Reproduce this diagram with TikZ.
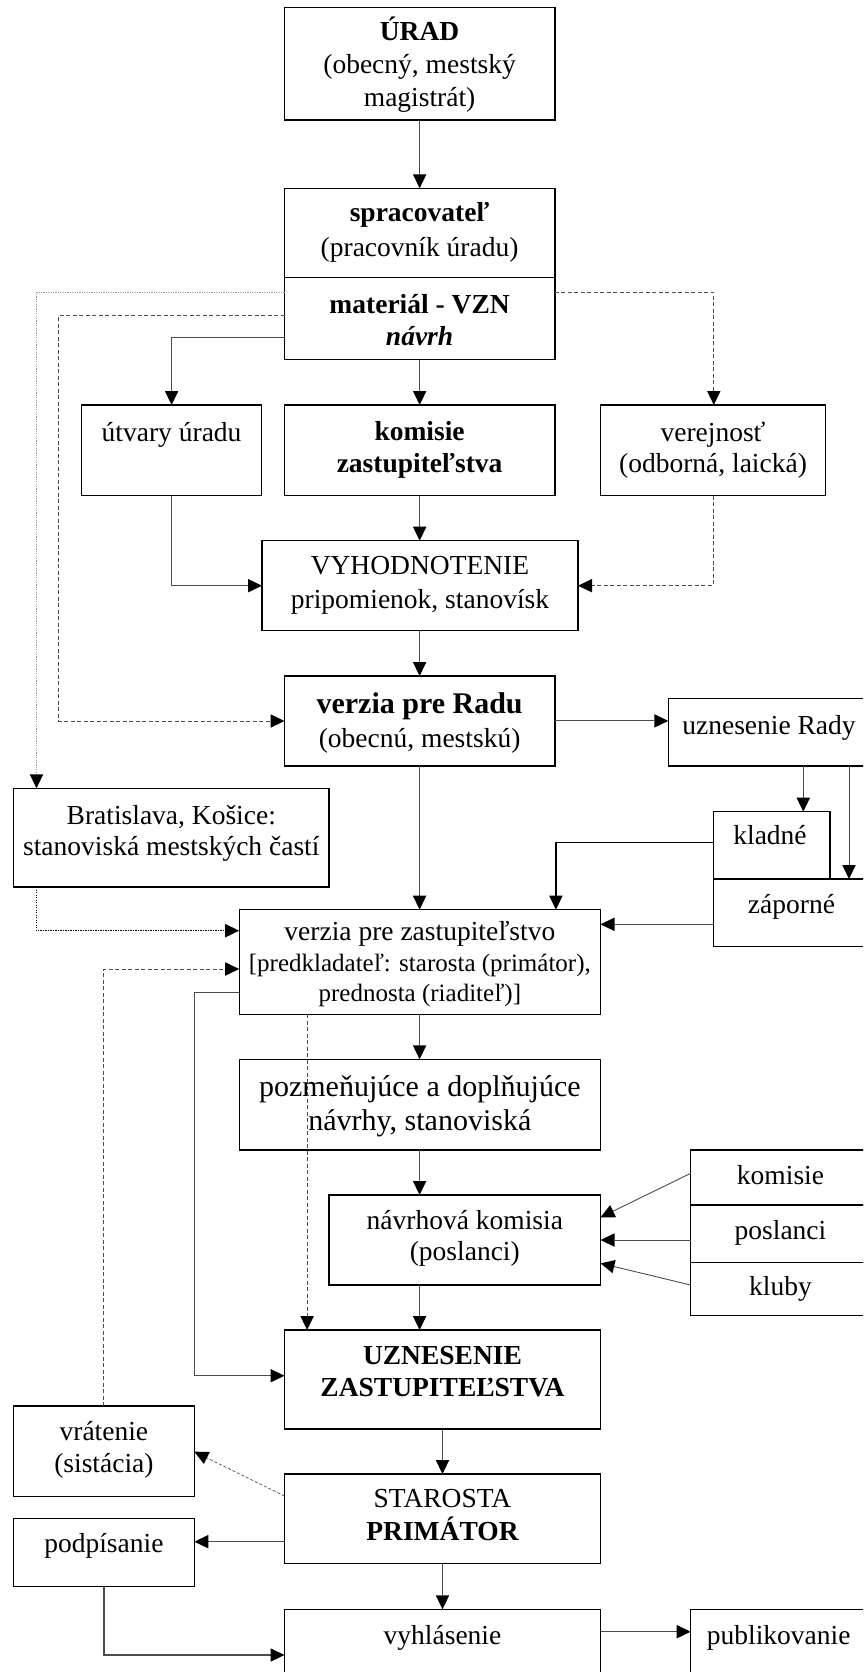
\documentclass[tikz,border=0pt]{standalone}
\usepackage{fontspec}
\setmainfont{Liberation Serif}
\usetikzlibrary{arrows.meta,calc}
\tikzset{
  box/.style={draw=black, line width=1.4pt, rectangle, inner sep=0pt, outer sep=0pt, anchor=north west},
  t/.style={anchor=base, inner sep=0pt, font=\fontsize{27.5}{33}\selectfont},
  tb/.style={anchor=base, inner sep=0pt, font=\bfseries\fontsize{27.5}{33}\selectfont},
  tbig/.style={anchor=base, inner sep=0pt, font=\fontsize{30}{36}\selectfont},
  tbigb/.style={anchor=base, inner sep=0pt, font=\bfseries\fontsize{30}{36}\selectfont},
  tsm/.style={anchor=base, inner sep=0pt, font=\fontsize{25}{30}\selectfont},
  tip/.style={-{Triangle[length=14pt,width=13.5pt,color=black,fill=black,line width=0pt]}},
  conn/.style={draw=black!70, line width=0.9pt, tip},
  connk/.style={draw=black, line width=1.3pt, tip},
  dsh/.style={conn, dash pattern=on 4pt off 2.5pt},
  gdot/.style={draw=black!40, line width=0.9pt, dash pattern=on 1.2pt off 1.2pt, tip},
  bdot/.style={draw=black, line width=1.1pt, dash pattern=on 1.2pt off 1.3pt, tip},
}
\begin{document}
\begin{tikzpicture}[x=1pt,y=-1pt]
\useasboundingbox (0,0) rectangle (863,1672);
\clip (0,0) rectangle (863,1672);
% boxes
\node[box, minimum width=270.3pt, minimum height=112.7pt] (urad) at (284.5,7.3) {};
\node[box, minimum width=270.3pt, minimum height=89.4pt] (sprac) at (284.5,188.3) {};
\node[box, minimum width=270.3pt, minimum height=81.8pt] (mat) at (284.5,277.7) {};
\node[box, minimum width=180pt, minimum height=90.7pt] (utvary) at (81.6,405) {};
\node[box, minimum width=270.3pt, minimum height=90.7pt] (komz) at (284.5,405) {};
\node[box, minimum width=225.1pt, minimum height=90.7pt] (verej) at (600.4,405) {};
\node[box, minimum width=316pt, minimum height=90pt] (vyh) at (262,540.7) {};
\node[box, minimum width=270.3pt, minimum height=89.8pt] (vradu) at (284.5,676) {};
\node[box, minimum width=201.7pt, minimum height=67.7pt] (urady) at (668.3,698.3) {};
\node[box, minimum width=315.5pt, minimum height=98.7pt] (brat) at (13.5,788.3) {};
\node[box, minimum width=116.7pt, minimum height=67.3pt] (klad) at (713.3,811.7) {};
\node[box, minimum width=156.7pt, minimum height=67.7pt] (zap) at (713.3,879) {};
\node[box, minimum width=361.3pt, minimum height=104.5pt] (vzast) at (239.2,909.7) {};
\node[box, minimum width=361.3pt, minimum height=90.7pt] (pozm) at (239.2,1059.3) {};
\node[box, minimum width=271.4pt, minimum height=90pt] (navrh) at (329.1,1195) {};
\node[box, minimum width=179.3pt, minimum height=55pt] (kom) at (690.7,1150) {};
\node[box, minimum width=179.3pt, minimum height=57.7pt] (posl) at (690.7,1205) {};
\node[box, minimum width=179.3pt, minimum height=52.6pt] (klub) at (690.7,1262.7) {};
\node[box, minimum width=316pt, minimum height=99pt] (uzn) at (284.5,1330) {};
\node[box, minimum width=180.8pt, minimum height=90.7pt] (vrat) at (13.5,1406) {};
\node[box, minimum width=316pt, minimum height=89.7pt] (star) at (284.5,1474) {};
\node[box, minimum width=180.8pt, minimum height=68.2pt] (podp) at (13.5,1518.5) {};
\node[box, minimum width=316pt, minimum height=90pt] (vyhl) at (284.5,1609.3) {};
\node[box, minimum width=176pt, minimum height=90pt] (publ) at (690.7,1609.3) {};
% texts
\node[tb] (tu1) at (419.6,41) {ÚRAD};
\node[t] (tu2) at (419.6,74) {(obecný, mestský};
\node[t] (tu3) at (419.6,107) {magistrát)};
\node[tb] (ts1) at (419.6,222) {spracovateľ};
\node[t] (ts2) at (419.6,256) {(pracovník úradu)};
\node[tb] (tm1) at (419.6,313) {materiál - VZN};
\node[tb] (tm2) at (419.6,345) {\itshape návrh};
\node[t] (tut) at (171.6,441.3) {útvary úradu};
\node[tb] (tk1) at (419.6,440.7) {komisie};
\node[tb] (tk2) at (419.6,472.3) {zastupiteľstva};
\node[t] (tv1) at (713,441) {verejnosť};
\node[t] (tv2) at (713,472.3) {(odborná, laická)};
\node[t] (th1) at (420,574.7) {VYHODNOTENIE};
\node[t] (th2) at (420,608.3) {pripomienok, stanovísk};
\node[tbigb] (tr1) at (419.6,713.3) {verzia pre Radu};
\node[t] (tr2) at (419.6,747.3) {(obecnú, mestskú)};
\node[t] (tur) at (769,734) {uznesenie Rady};
\node[t] (tb1) at (171.3,824) {Bratislava, Košice:};
\node[t] (tb2) at (171.3,855.7) {stanoviská mestských častí};
\node[t] (tkl) at (770,844) {kladné};
\node[t] (tza) at (791.5,913) {záporné};
\node[t] (tz1) at (419.85,940.7) {verzia pre zastupiteľstvo};
\node[tsm] (tz2) at (419.85,971.5) {[predkladateľ: starosta (primátor),};
\node[tsm] (tz3) at (419.85,1001) {prednosta (riaditeľ)]};
\node[tbig] (tp1) at (419.85,1096.5) {pozmeňujúce a doplňujúce};
\node[tbig] (tp2) at (419.85,1130) {návrhy, stanoviská};
\node[t] (tn1) at (464.8,1229) {návrhová komisia};
\node[t] (tn2) at (464.8,1260.7) {(poslanci)};
\node[t] (tko) at (780.5,1184) {komisie};
\node[t] (tpo) at (780.5,1239.7) {poslanci};
\node[t] (tkb) at (780.5,1295.7) {kluby};
\node[tb] (tun1) at (442.5,1364) {UZNESENIE};
\node[tb] (tun2) at (442.5,1396.7) {ZASTUPITEĽSTVA};
\node[t] (tvr1) at (103.9,1440.7) {vrátenie};
\node[t] (tvr2) at (103.9,1472.3) {(sistácia)};
\node[t] (tst1) at (442.5,1507.3) {STAROSTA};
\node[tb] (tst2) at (442.5,1540.7) {PRIMÁTOR};
\node[t] (tpd) at (103.9,1552.3) {podpísanie};
\node[t] (tvh) at (442.5,1644) {vyhlásenie};
\node[t] (tpb) at (778.7,1644) {publikovanie};
% helper coordinates
\coordinate (c1) at (36.5,292.3);
\coordinate (c2) at (713.8,292.3);
\coordinate (c3) at (58.6,315.7);
\coordinate (c4) at (58.6,721);
\coordinate (c5) at (171.6,337.7);
\coordinate (c8) at (803.3,0);
\coordinate (c9) at (849,0);
\coordinate (c10) at (555.9,842.3);
\coordinate (c11) at (0,924.3);
\coordinate (c12) at (36.5,930.7);
\coordinate (c13) at (0,969);
\coordinate (c14) at (194.3,992.3);
\coordinate (c15) at (194.3,1375.7);
\coordinate (c16) at (307.1,0);
\coordinate (c17) at (419.6,0);
\coordinate (k1) at (690.7,1173.3);
\coordinate (k2) at (600.5,1217.3);
\coordinate (k3) at (690.7,1285);
\coordinate (k4) at (600.5,1263.3);
\coordinate (s1) at (284.5,1496);
\coordinate (s2) at (194.3,1451.7);
\coordinate (s3) at (0,1541.7);
\coordinate (c18) at (0,1655);
\coordinate (c19) at (0,1631.7);
% connectors
\draw[conn] (urad.south) -- (sprac.north);
\draw[gdot] (mat.west |- c1) -- (c1) -- (c1 |- brat.north);
\draw[dsh] (mat.east |- c2) -- (c2) -- (c2 |- verej.north);
\draw[dsh] (mat.west |- c3) -- (c3) -- (c4) -- (c4 -| vradu.west);
\draw[conn] (mat.west |- c5) -- (c5) -- (c5 |- utvary.north);
\draw[conn] (mat.south) -- (komz.north);
\draw[conn] (utvary.south) |- (vyh.west);
\draw[conn] (komz.south) -- (komz.south |- vyh.north);
\draw[dsh] (verej.south) |- (vyh.east);
\draw[conn] (vyh.south -| c17) -- (vradu.north -| c17);
\draw[conn] (vradu.east) -- (vradu.east -| urady.west);
\draw[conn] (urady.south -| c8) -- (klad.north -| c8);
\draw[conn] (urady.south -| c9) -- (zap.north -| c9);
\draw[connk] (klad.west |- c10) -- (c10) -- (c10 |- vzast.north);
\draw[conn] (vradu.south -| c17) -- (vzast.north -| c17);
\draw[conn] (zap.west |- c11) -- (vzast.east |- c11);
\draw[bdot] (c12 |- brat.south) -- (c12) -- (vzast.west |- c12);
\draw[dsh] (vrat.north) |- (vzast.west |- c13);
\draw[conn] (vzast.west |- c14) -- (c14) -- (c15) -- (c15 -| uzn.west);
\draw[dsh] (vzast.south -| c16) -- (uzn.north -| c16);
\draw[conn] (vzast.south -| c17) -- (pozm.north -| c17);
\draw[conn] (pozm.south -| c17) -- (navrh.north -| c17);
\draw[conn] (k1) -- (k2);
\draw[conn] (posl.west |- navrh.east) -- (navrh.east);
\draw[conn] (k3) -- (k4);
\draw[conn] (navrh.south -| c17) -- (uzn.north -| c17);
\draw[conn] (uzn.south) -- (star.north);
\draw[conn, dash pattern=on 3pt off 2pt, line width=0.7pt] (s1) -- (s2);
\draw[conn] (star.west |- s3) -- (podp.east |- s3);
\draw[conn] (star.south) -- (vyhl.north);
\draw[conn, line width=1.6pt] (podp.south) |- (vyhl.west |- c18);
\draw[conn] (vyhl.east |- c19) -- (publ.west |- c19);
\end{tikzpicture}
\end{document}
